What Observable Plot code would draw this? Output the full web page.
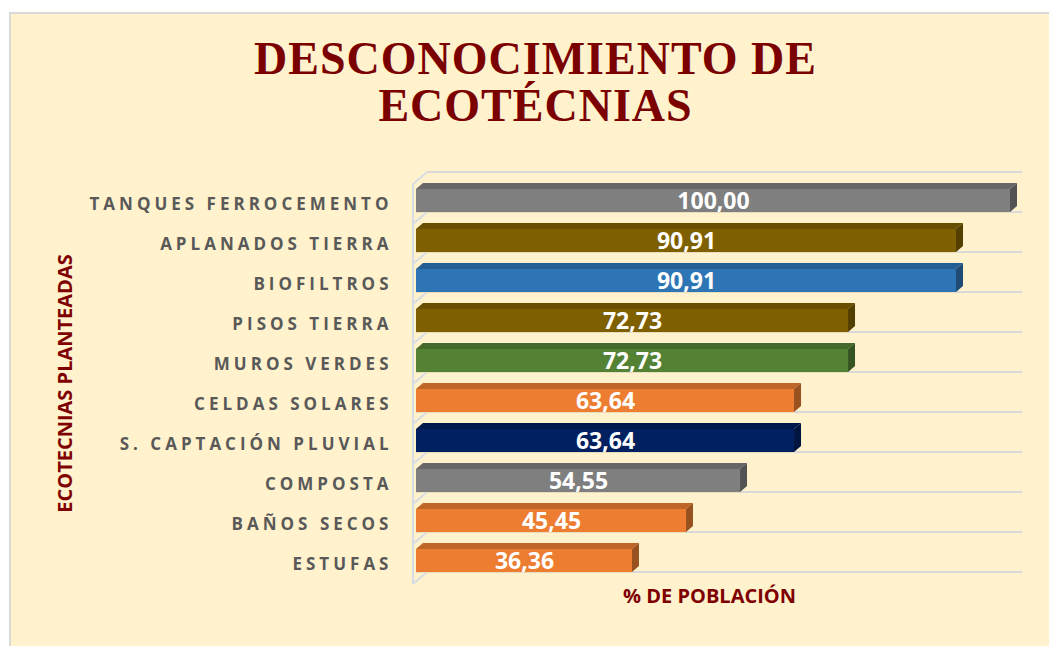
<!DOCTYPE html>
<html><head><meta charset="utf-8">
<script src="https://cdn.jsdelivr.net/npm/d3@7"></script>
<script src="https://cdn.jsdelivr.net/npm/@observablehq/plot@0.6"></script>
<style>
html,body{margin:0;padding:0;background:#fff;width:1049px;height:646px;overflow:hidden;}
#frame{position:absolute;left:9px;top:12px;width:1040px;height:634px;background:#FFF2CC;border-top:2px solid #D9D9D9;border-left:2px solid #D9D9D9;box-sizing:border-box;}
#title{position:absolute;left:0;top:35px;width:1049px;padding-left:22px;box-sizing:border-box;text-align:center;font-family:"Liberation Serif","Times New Roman",serif;font-weight:bold;font-size:46px;color:#7B0000;letter-spacing:1px;line-height:47px;}
#chart{position:absolute;left:0;top:140px;}
</style>
</head><body>
<div id="frame"></div>
<div id="title">DESCONOCIMIENTO DE<br>ECOTÉCNIAS</div>
<div id="chart"></div>
<script>
const names = ["TANQUES FERROCEMENTO","APLANADOS TIERRA","BIOFILTROS","PISOS TIERRA","MUROS VERDES","CELDAS SOLARES","S. CAPTACIÓN PLUVIAL","COMPOSTA","BAÑOS SECOS","ESTUFAS"];
const values = [100, 90.91, 90.91, 72.73, 72.73, 63.64, 63.64, 54.55, 45.45, 36.36];
const colors = ["#7F7F7F","#7F6000","#2E75B6","#7F6000","#548235","#ED7D31","#002060","#7F7F7F","#ED7D31","#ED7D31"];
const yTitle = "ECOTECNIAS PLANTEADAS";
const xTitle = "% DE POBLACIÓN";

const data = names.map((n, i) => ({name: n, value: values[i], color: colors[i]}));
const fmt = v => v.toFixed(2).replace(".", ",");
const sans = "'Open Sans', 'Noto Sans', sans-serif";

function wall(index, scales, vals, dims) {
  const {x, y} = scales;
  const g = d3.create("svg:g").attr("fill", "none");
  const bw = y.bandwidth();
  const starts = names.map(n => y(n)).concat([y(names[names.length - 1]) + bw]);
  const xf = x(0) - 3, xb = x(0) + 11, xe = x(100) + 12;
  starts.forEach(s => {
    g.append("line").attr("x1", xb).attr("x2", xe).attr("y1", s - 12).attr("y2", s - 12)
      .attr("stroke", "#D9D9D9").attr("stroke-width", 2);
    g.append("line").attr("x1", xf).attr("x2", xb).attr("y1", s).attr("y2", s - 12)
      .attr("stroke", "#D6DCE4").attr("stroke-width", 2);
  });
  g.append("line").attr("x1", xf).attr("x2", xf).attr("y1", starts[0]).attr("y2", starts[starts.length - 1])
    .attr("stroke", "#D6DCE4").attr("stroke-width", 2);
  return g.node();
}

function bars3d(index, scales, vals, dims) {
  const {x, y} = scales;
  const g = d3.create("svg:g");
  const ddx = 7, ddy = 6;
  data.forEach(d => {
    const t = y(d.name);
    const y0 = t + 5, y1 = t + 28;
    const x0 = x(0), x1 = x(d.value);
    const c = d3.color(d.color);
    g.append("polygon")
      .attr("points", [[x0, y0], [x0 + ddx, y0 - ddy], [x1 + ddx, y0 - ddy], [x1, y0]].join(" "))
      .attr("fill", c.darker(0.6).formatHex());
    g.append("polygon")
      .attr("points", [[x1, y0], [x1 + ddx, y0 - ddy], [x1 + ddx, y1 - ddy], [x1, y1]].join(" "))
      .attr("fill", c.darker(1.2).formatHex());
    g.append("rect").attr("x", x0).attr("y", y0).attr("width", x1 - x0).attr("height", y1 - y0)
      .attr("fill", d.color);
    g.append("line").attr("x1", x0).attr("x2", x1).attr("y1", y1 + 0.5).attr("y2", y1 + 0.5)
      .attr("stroke", "#E8DDBF").attr("stroke-width", 1);
  });
  return g.node();
}

const chart = Plot.plot({
  width: 1049,
  height: 506,
  marginLeft: 416,
  marginRight: 39,
  marginTop: 44,
  marginBottom: 62,
  style: {background: "transparent", fontFamily: sans, overflow: "visible"},
  x: {domain: [0, 100], axis: null},
  y: {domain: names, range: [44, 444], padding: 0, axis: null},
  marks: [
    Plot.barX(data, {x: "value", y: "name", fill: "none"}),
    wall,
    bars3d,
    Plot.text(data, {x: d => d.value / 2, y: "name", text: d => fmt(d.value), fill: "white",
      fontWeight: "bold", fontSize: 23, dy: -3, fontFamily: sans}),
    Plot.text(data, {y: "name", text: "name", frameAnchor: "left", textAnchor: "end", dx: -24,
      fill: "#595959", fontWeight: "bold", fontSize: 17, fontFamily: sans, dy: 0}),
    Plot.text([yTitle], {text: d => d, frameAnchor: "left", textAnchor: "middle", rotate: -90, dx: -351, dy: -1,
      fill: "#7F0000", fontWeight: "bold", fontSize: 20, fontFamily: sans}),
    Plot.text([xTitle], {text: d => d, frameAnchor: "bottom", dx: -4, dy: 18, fill: "#7F0000",
      fontWeight: "bold", fontSize: 20, fontFamily: sans})
  ]
});
d3.select(chart).selectAll("text").filter(function() { return names.includes(this.textContent); })
  .attr("letter-spacing", "4px");
document.getElementById("chart").appendChild(chart);
</script>
</body></html>
